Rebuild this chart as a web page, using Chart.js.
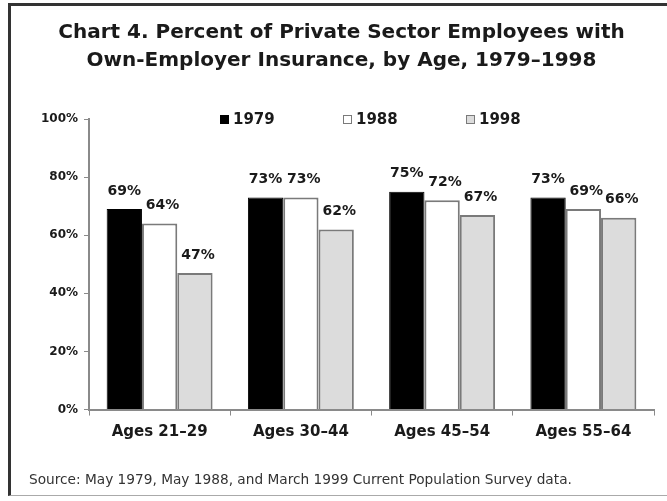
<!DOCTYPE html>
<html>
<head>
<meta charset="utf-8">
<script src="https://cdn.jsdelivr.net/npm/chart.js@4/dist/chart.umd.min.js"></script>
<style>
  html, body { margin: 0; padding: 0; background: #fff; }
  #wrap { position: relative; width: 667px; height: 501px; overflow: hidden; }
  #frame { position: absolute; left: 8px; top: 3px; width: 670px; height: 493px;
           border-top: 3px solid #333; border-left: 3px solid #333; border-bottom: 1px solid #aaa;
           box-sizing: border-box; pointer-events: none; }
  canvas { position: absolute; left: 0; top: 0; }
</style>
</head>
<body>
<div id="wrap">
  <div id="frame"></div>
  <canvas id="c" width="667" height="501"></canvas>
</div>
<script>
const categories = ["Ages 21–29", "Ages 30–44", "Ages 45–54", "Ages 55–64"];
const seriesLabels = ["1979", "1988", "1998"];
const values1979 = [69, 73, 75, 73];
const values1988 = [64, 73, 72, 69];
const values1998 = [47, 62, 67, 66];
const yTicks = [0, 20, 40, 60, 80, 100];
const titleLines = ["Chart 4. Percent of Private Sector Employees with", "Own-Employer Insurance, by Age, 1979–1998"];
const sourceText = "Source: May 1979, May 1988, and March 1999 Current Population Survey data.";

const FONT = "'DejaVu Sans', sans-serif";
const TXT = "#1a1a1a";

const legendPlugin = {
  id: "inlineLegend",
  afterDraw(chart) {
    const ctx = chart.ctx;
    const ca = chart.chartArea;
    const y = chart.scales.y.getPixelForValue(100);
    ctx.save();
    ctx.font = "bold 15px " + FONT;
    ctx.textBaseline = "middle";
    ctx.textAlign = "left";
    chart.data.datasets.forEach((ds, i) => {
      const x = ca.left + 131 + i * 123;
      ctx.fillStyle = ds.backgroundColor;
      ctx.fillRect(x, y - 4, 9, 9);
      ctx.strokeStyle = ds.borderColor;
      ctx.lineWidth = 1;
      ctx.strokeRect(x + 0.5, y - 3.5, 8, 8);
      ctx.fillStyle = TXT;
      ctx.fillText(ds.label, x + 13, y + 1);
    });
    ctx.restore();
  }
};

const valueLabelPlugin = {
  id: "valueLabels",
  afterDatasetsDraw(chart) {
    const ctx = chart.ctx;
    ctx.save();
    ctx.font = "bold 14px " + FONT;
    ctx.fillStyle = TXT;
    ctx.textAlign = "center";
    ctx.textBaseline = "middle";
    chart.data.datasets.forEach((ds, i) => {
      const meta = chart.getDatasetMeta(i);
      meta.data.forEach((bar, j) => {
        ctx.fillText(ds.data[j] + "%", bar.x + (i > 0 ? 3 : 0), bar.y - 18);
      });
    });
    ctx.restore();
  }
};

new Chart(document.getElementById("c"), {
  type: "bar",
  data: {
    labels: categories,
    datasets: [
      { label: seriesLabels[0], data: values1979, backgroundColor: "#000000", borderColor: "#000000", borderWidth: 1 },
      { label: seriesLabels[1], data: values1988, backgroundColor: "#ffffff", borderColor: "#7a7a7a", borderWidth: 2 },
      { label: seriesLabels[2], data: values1998, backgroundColor: "#dcdcdc", borderColor: "#7a7a7a", borderWidth: 2 }
    ]
  },
  options: {
    responsive: false,
    animation: false,
    devicePixelRatio: 1,
    layout: { padding: { top: 0, left: 29, right: 13, bottom: 12 } },
    datasets: { bar: { categoryPercentage: 0.75, barPercentage: 1.0 } },
    plugins: {
      legend: { display: false },
      tooltip: { enabled: false },
      title: {
        display: true,
        text: titleLines,
        color: TXT,
        font: { family: FONT, size: 20, weight: "bold", lineHeight: 1.4 },
        padding: { top: 19, bottom: 44 }
      },
      subtitle: {
        display: true,
        position: "bottom",
        align: "start",
        text: sourceText,
        color: "#333",
        font: { family: FONT, size: 13.7, weight: "normal", lineHeight: 1.2 },
        padding: { top: 18, bottom: 0 }
      }
    },
    scales: {
      x: {
        grid: { display: true, offset: true, drawOnChartArea: false, drawTicks: true, tickLength: 6, color: "#8a8a8a" },
        border: { display: true, color: "#8a8a8a", width: 2 },
        ticks: { color: TXT, font: { family: FONT, size: 15, weight: "bold" }, padding: 8, maxRotation: 0 },
        afterFit(scale) { scale.height = 45; }
      },
      y: {
        min: 0, max: 100,
        afterBuildTicks(scale) { scale.ticks = yTicks.map(v => ({ value: v })); },
        grid: { display: true, drawOnChartArea: false, drawTicks: true, tickLength: 5, color: "#8a8a8a" },
        border: { display: true, color: "#8a8a8a", width: 2 },
        ticks: { color: TXT, font: { family: FONT, size: 12, weight: "bold" }, padding: 6, callback: v => v + "%" },
        afterFit(scale) { scale.width = 60; }
      }
    }
  },
  plugins: [legendPlugin, valueLabelPlugin]
});
</script>
</body>
</html>
